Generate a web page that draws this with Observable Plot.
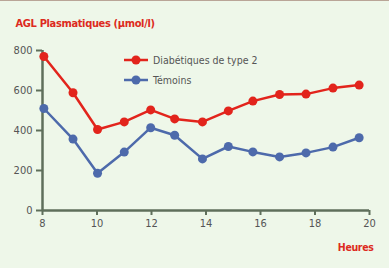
<!DOCTYPE html>
<html><head><meta charset="utf-8">
<script src="https://cdn.jsdelivr.net/npm/d3@7"></script>
<script src="https://cdn.jsdelivr.net/npm/@observablehq/plot@0.6"></script>
<style>
html,body{margin:0;padding:0;background:#eef7e9;}
#chart{width:389px;height:268px;border-top:1px solid #b9a597;box-sizing:border-box;overflow:hidden;}
svg{display:block;}
svg text{font-stretch:condensed;}
.ttl text{letter-spacing:-0.35px;}
</style></head><body><div id="chart"></div>
<script>
const hours = [8.05, 9.12, 10.02, 11.0, 11.97, 12.85, 13.87, 14.82, 15.72, 16.7, 17.67, 18.66, 19.62];
const diabetiques = [770, 589, 405, 443, 503, 458, 443, 498, 547, 580, 582, 612, 627];
const temoins = [510, 357, 186, 292, 414, 376, 258, 320, 293, 268, 288, 317, 364];
const seriesNames = ["Diabétiques de type 2", "Témoins"];
const colors = ["#e2241c", "#4d6aab"];
const xTicks = [8, 10, 12, 14, 16, 18, 20];
const yTicks = [0, 200, 400, 600, 800];

const rows = [];
hours.forEach((h, i) => {
  rows.push({h, v: diabetiques[i], s: seriesNames[0]});
  rows.push({h, v: temoins[i], s: seriesNames[1]});
});

const axisColor = "#5f6f5b";
const font = "'DejaVu Sans', sans-serif";

const plot = Plot.plot({
  width: 389, height: 267,
  marginLeft: 42, marginRight: 20, marginTop: 49, marginBottom: 58,
  style: {background: "transparent", fontFamily: font, fontSize: "11px", color: "#555"},
  x: {domain: [8, 20], ticks: xTicks, label: null},
  y: {domain: [0, 800], ticks: yTicks, label: null},
  color: {domain: seriesNames, range: colors},
  marks: [
    Plot.axisY({ticks: yTicks, tickSize: 6, tickPadding: 4, stroke: axisColor, strokeWidth: 2, fill: "#555", fontSize: 11, label: null}),
    Plot.axisX({ticks: xTicks, tickSize: 5, tickPadding: 4, stroke: axisColor, strokeWidth: 2, fill: "#555", fontSize: 11, label: null}),
    Plot.ruleX([8], {stroke: axisColor, strokeWidth: 2.5}),
    Plot.ruleY([0], {stroke: axisColor, strokeWidth: 2.5}),
    Plot.line(rows, {x: "h", y: "v", stroke: "s", z: "s", strokeWidth: 2.5}),
    Plot.dot(rows, {x: "h", y: "v", fill: "s", r: 4.5}),
    Plot.text(["AGL Plasmatiques (µmol/l)"], {className: "ttl", frameAnchor: "top-left", dx: -27, dy: -31, textAnchor: "start", fill: "#dd2a20", fontWeight: "bold", fontSize: 11, fontFamily: font}),
    Plot.text(["Heures"], {className: "ttl", frameAnchor: "bottom-right", dx: 4, dy: 40, textAnchor: "end", fill: "#dd2a20", fontWeight: "bold", fontSize: 10.5, fontFamily: font})
  ]
});
document.getElementById("chart").appendChild(plot);

// legend
const svg = d3.select(plot);
const lg = svg.append("g").attr("text-anchor", "start");
seriesNames.forEach((name, i) => {
  const y = 59 + i * 20;
  lg.append("line").attr("x1", 124).attr("x2", 148).attr("y1", y).attr("y2", y).attr("stroke", colors[i]).attr("stroke-width", 2.5);
  lg.append("circle").attr("cx", 136).attr("cy", y).attr("r", 4.5).attr("fill", colors[i]);
  lg.append("text").attr("x", 153).attr("y", y).attr("dy", "0.35em").attr("fill", "#555").attr("font-size", 10.5).attr("font-family", font).text(name);
});
</script></body></html>
